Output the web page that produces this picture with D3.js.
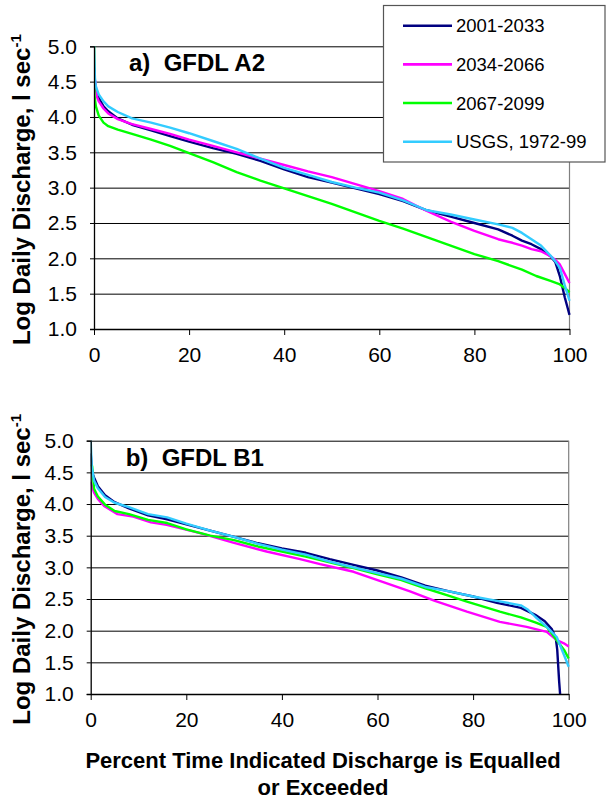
<!DOCTYPE html>
<html>
<head>
<meta charset="utf-8">
<script src="https://cdn.jsdelivr.net/npm/d3@7"></script>
<style>
  body { margin: 0; background: #fff; }
  svg { display: block; font-family: "Liberation Sans", Arial, Helvetica, sans-serif; }
</style>
</head>
<body>
<svg id="chart" width="607" height="801"></svg>
<script>
// Series shared by both panels
const seriesNames = ["2001-2033", "2034-2066", "2067-2099", "USGS, 1972-99"];
const seriesColors = ["#000080", "#ff00ff", "#00ff00", "#33ccff"];

// Axis ticks
const xTicks = [0, 20, 40, 60, 80, 100];
const yTicks = [1.0, 1.5, 2.0, 2.5, 3.0, 3.5, 4.0, 4.5, 5.0];

// Panel titles
const panelTitles = ["a)  GFDL A2", "b)  GFDL B1"];

// Flow duration curves: [percent of time exceeded, log daily discharge]
// a) GFDL A2
const a2Early = [[0,4.7],[0.2,4.45],[0.5,4.37],[1,4.27],[2,4.15],[3,4.08],[5,3.98],[8,3.89],[12,3.81],[16,3.73],[20,3.65],[25,3.56],[30,3.48],[35,3.38],[40,3.26],[45,3.15],[50,3.07],[55,2.99],[60,2.91],[65,2.81],[70,2.68],[75,2.59],[80,2.50],[85,2.41],[88,2.32],[90,2.25],[92,2.20],[94,2.13],[96,2.03],[97,1.95],[98,1.74],[99,1.45],[99.6,1.3],[100,1.2]];
const a2Mid = [[0,4.55],[0.3,4.5],[0.6,4.29],[1,4.22],[2,4.12],[3,4.05],[5,3.97],[8,3.90],[12,3.83],[16,3.76],[20,3.68],[25,3.59],[30,3.50],[35,3.41],[40,3.32],[45,3.23],[50,3.15],[55,3.05],[60,2.95],[65,2.84],[70,2.67],[75,2.52],[80,2.39],[85,2.27],[88,2.22],[90,2.18],[92,2.13],[94,2.10],[96,2.03],[97,1.98],[98,1.91],[99,1.78],[100,1.65]];
const a2Late = [[0,5.0],[0.1,4.3],[0.4,4.15],[1,4.02],[2,3.92],[3,3.87],[5,3.82],[8,3.76],[12,3.68],[16,3.59],[20,3.49],[25,3.36],[30,3.22],[35,3.10],[40,2.99],[45,2.88],[50,2.77],[55,2.65],[60,2.53],[65,2.42],[70,2.30],[75,2.18],[80,2.06],[85,1.96],[90,1.84],[93,1.75],[96,1.68],[98,1.63],[99,1.58],[100,1.52]];
const a2Usgs = [[0,5.0],[0.2,4.55],[0.4,4.43],[1,4.32],[2,4.22],[3,4.15],[5,4.07],[8,3.98],[12,3.92],[16,3.85],[20,3.77],[25,3.66],[30,3.55],[35,3.41],[40,3.28],[45,3.18],[50,3.08],[55,3.0],[60,2.93],[65,2.82],[70,2.68],[75,2.62],[80,2.55],[85,2.48],[88,2.43],[90,2.36],[92,2.27],[94,2.18],[96,2.04],[97,1.96],[98,1.86],[99,1.62],[100,1.4]];

// b) GFDL B1
const b1Early = [[0,4.8],[0.3,4.5],[0.7,4.42],[1.5,4.28],[3,4.14],[5,4.03],[8,3.93],[12,3.82],[16,3.76],[20,3.68],[25,3.58],[30,3.48],[35,3.38],[40,3.30],[45,3.23],[50,3.13],[55,3.04],[60,2.95],[65,2.84],[70,2.71],[75,2.62],[80,2.54],[85,2.44],[90,2.36],[93,2.25],[95,2.15],[96.5,2.02],[97.3,1.88],[97.6,1.7],[98,1.2],[98.3,0.9]];
const b1Mid = [[0,4.35],[0.7,4.18],[1.5,4.08],[2.8,3.97],[5.6,3.84],[8.9,3.80],[12.6,3.71],[15.9,3.67],[22.9,3.54],[29.8,3.39],[36.8,3.25],[43.8,3.13],[48,3.05],[55,2.93],[60,2.80],[66.8,2.62],[72,2.47],[78.7,2.30],[85.6,2.14],[91.2,2.06],[95.4,1.98],[97.5,1.85],[99,1.80],[100,1.75]];
const b1Late = [[0,4.62],[0.3,4.6],[0.7,4.24],[1.5,4.12],[3,3.99],[5,3.89],[8,3.84],[12,3.75],[16,3.70],[20,3.60],[25,3.50],[30,3.43],[35,3.33],[40,3.25],[45,3.17],[50,3.08],[55,2.99],[60,2.89],[65,2.80],[70,2.67],[75,2.55],[78.7,2.46],[85.6,2.30],[90,2.21],[93,2.13],[95.4,2.06],[97.5,1.85],[99,1.70],[100,1.56]];
const b1Usgs = [[0,5.0],[0.2,4.6],[0.7,4.37],[1.5,4.25],[3,4.11],[5,4.02],[8,3.95],[12,3.84],[16,3.79],[20,3.69],[25,3.58],[30,3.48],[35,3.37],[40,3.28],[45,3.20],[50,3.09],[55,3.0],[60,2.91],[65,2.82],[70,2.69],[75,2.62],[80,2.54],[85,2.47],[90,2.40],[91.5,2.33],[93,2.22],[95.4,2.06],[97.5,1.90],[99,1.62],[100,1.43]];

const panelData = [
  [a2Early, a2Mid, a2Late, a2Usgs],
  [b1Early, b1Mid, b1Late, b1Usgs]
];

// Plot-area boxes for the two panels
const boxes = [
  { left: 94, right: 569.5, top: 46.3, bottom: 329 },
  { left: 90.7, right: 568.7, top: 440.7, bottom: 694 }
];

const svg = d3.select("#chart");
const fmt = d3.format(".1f");

boxes.forEach((b, i) => {
  const x = d3.scaleLinear().domain([0, 100]).range([b.left, b.right]);
  const y = d3.scaleLinear().domain([1, 5]).range([b.bottom, b.top]);
  const g = svg.append("g");

  // horizontal gridlines
  g.append("g")
    .attr("transform", `translate(${b.left},0)`)
    .call(d3.axisLeft(y).tickValues(yTicks).tickSize(-(b.right - b.left)).tickFormat(""))
    .call(s => s.select(".domain").remove())
    .call(s => s.selectAll(".tick line").attr("stroke", "#000").attr("stroke-width", 1));

  // right edge of the plot area
  g.append("line")
    .attr("x1", b.right).attr("x2", b.right)
    .attr("y1", b.top).attr("y2", b.bottom)
    .attr("stroke", "#808080").attr("stroke-width", 1.2);

  // curves, clipped to the plot area
  const clipId = "clip" + i;
  svg.append("clipPath").attr("id", clipId)
    .append("rect")
    .attr("x", b.left).attr("y", b.top - 2)
    .attr("width", b.right - b.left + 2).attr("height", b.bottom - b.top + 2);

  const line = d3.line().x(d => x(d[0])).y(d => y(d[1]));
  const curves = g.append("g").attr("clip-path", `url(#${clipId})`);
  panelData[i].forEach((d, k) => {
    curves.append("path")
      .datum(d)
      .attr("fill", "none")
      .attr("stroke", seriesColors[k])
      .attr("stroke-width", 2.4)
      .attr("stroke-linejoin", "round")
      .attr("d", line);
  });

  // y axis
  g.append("g")
    .attr("transform", `translate(${b.left},0)`)
    .call(d3.axisLeft(y).tickValues(yTicks).tickSize(4).tickPadding(13).tickFormat(fmt))
    .call(s => s.select(".domain").attr("stroke", "#000").attr("stroke-width", 1.3))
    .call(s => s.selectAll(".tick line").attr("stroke", "#000"))
    .call(s => s.selectAll("text").attr("font-size", 21).attr("fill", "#000")
      .attr("font-family", "Liberation Sans, Arial, sans-serif"));

  // x axis
  g.append("g")
    .attr("transform", `translate(0,${b.bottom})`)
    .call(d3.axisBottom(x).tickValues(xTicks).tickSize(6).tickPadding(12).tickSizeOuter(0))
    .call(s => s.select(".domain").attr("stroke", "#000").attr("stroke-width", 1.3))
    .call(s => s.selectAll(".tick line").attr("stroke", "#000"))
    .call(s => s.selectAll("text").attr("font-size", 21).attr("fill", "#000")
      .attr("font-family", "Liberation Sans, Arial, sans-serif"));

  // panel title
  g.append("text")
    .attr("x", b.left + 35)
    .attr("y", b.top + 25)
    .attr("font-size", 24)
    .attr("font-weight", "bold")
    .style("white-space", "pre")
    .text(panelTitles[i]);

  // y axis title
  const yt = g.append("text")
    .attr("transform", `translate(30,${(b.top + b.bottom) / 2 + 2}) rotate(-90)`)
    .attr("text-anchor", "middle")
    .attr("font-size", 24)
    .attr("font-weight", "bold");
  yt.append("tspan").text("Log Daily Discharge, l sec");
  yt.append("tspan").attr("dy", -9).attr("font-size", 15).text("-1");
});

// x axis title
const xt = svg.append("text")
  .attr("text-anchor", "middle")
  .attr("font-size", 22)
  .attr("font-weight", "bold");
xt.append("tspan").attr("x", 323).attr("y", 768).text("Percent Time Indicated Discharge is Equalled");
xt.append("tspan").attr("x", 323).attr("y", 795).text("or Exceeded");

// legend
const lg = svg.append("g");
lg.append("rect")
  .attr("x", 383.5).attr("y", 5.5).attr("width", 221.5).attr("height", 156.5)
  .attr("fill", "#fff").attr("stroke", "#555").attr("stroke-width", 1.2);
const legendY = d3.scalePoint().domain(seriesNames).range([25.7, 141.7]);
seriesNames.forEach((n, k) => {
  lg.append("line")
    .attr("x1", 403).attr("x2", 452)
    .attr("y1", legendY(n)).attr("y2", legendY(n))
    .attr("stroke", seriesColors[k]).attr("stroke-width", 2.6);
  lg.append("text")
    .attr("x", 456).attr("y", legendY(n))
    .attr("dy", "0.35em")
    .attr("font-size", 18.5)
    .text(n);
});
</script>
</body>
</html>
